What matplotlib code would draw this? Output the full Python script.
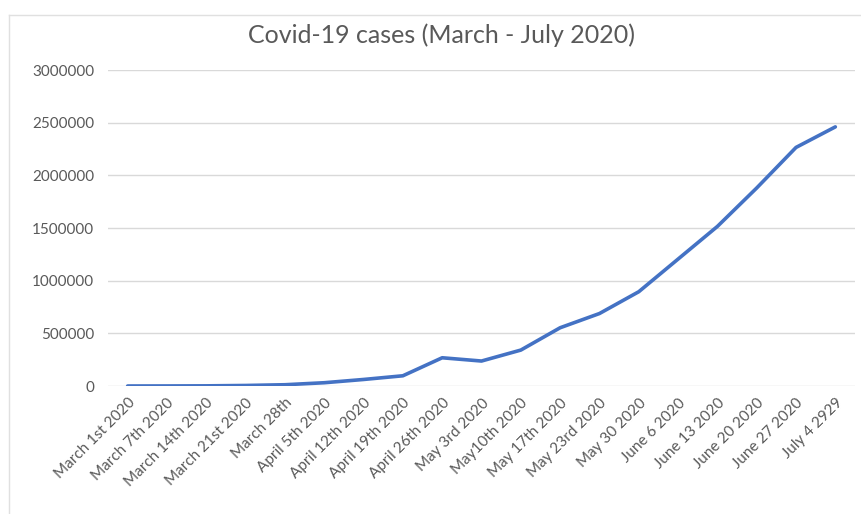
import numpy as np
import matplotlib
matplotlib.use("Agg")
import matplotlib.pyplot as plt
from matplotlib.lines import Line2D

# data
dates = ["March 1st 2020", "March 7th 2020", "March 14th 2020", "March 21st 2020",
         "March 28th", "April 5th 2020", "April 12th 2020", "April 19th 2020",
         "April 26th 2020", "May 3rd 2020", "May10th 2020", "May 17th 2020",
         "May 23rd 2020", "May 30 2020", "June 6 2020", "June 13 2020",
         "June 20 2020", "June 27 2020", "July 4 2929"]
cases = [100, 500, 1500, 5000, 12000, 31000, 62000, 97000, 268000, 237000,
         341000, 553000, 688000, 895000, 1205000, 1515000, 1880000, 2265000, 2460000]
yticks = [0, 500000, 1000000, 1500000, 2000000, 2500000, 3000000]

plt.rcParams['font.family'] = ['Lato', 'DejaVu Sans']
txt = '#595959'

fig = plt.figure(figsize=(8.62, 5.14), dpi=100)
ax = fig.add_axes([108 / 862, 1 - 386 / 514, 747 / 862, 316 / 514])

x = np.arange(len(dates))
ax.plot(x, cases, color='#4472C4', lw=2.6, solid_capstyle='round', zorder=3)

ax.set_xlim(-0.5, len(dates) - 0.5)
ax.set_ylim(0, 3000000)
ax.set_yticks(yticks)
ax.set_yticklabels([str(v) for v in yticks])
ax.set_xticks(x)
ax.set_xticklabels(dates, rotation=45, ha='right', rotation_mode='anchor')

ax.grid(axis='y', color='#D9D9D9', lw=1)
ax.set_axisbelow(True)
for s in ax.spines.values():
    s.set_visible(False)
ax.tick_params(axis='both', length=0, colors=txt, labelsize=11)
ax.tick_params(axis='y', pad=10)
ax.tick_params(axis='x', pad=7)

fig.text(442 / 862, 1 - 35 / 514, "Covid-19 cases (March - July 2020)",
         ha='center', va='center', fontsize=18, color=txt)

# chart area border (left and top edges visible)
fig.add_artist(Line2D([9 / 862, 9 / 862], [0, 1 - 15 / 514],
                      transform=fig.transFigure, color='#E0E0E0', lw=1))
fig.add_artist(Line2D([9 / 862, 1], [1 - 15 / 514, 1 - 15 / 514],
                      transform=fig.transFigure, color='#E0E0E0', lw=1))

fig.savefig("out.png", dpi=100)
